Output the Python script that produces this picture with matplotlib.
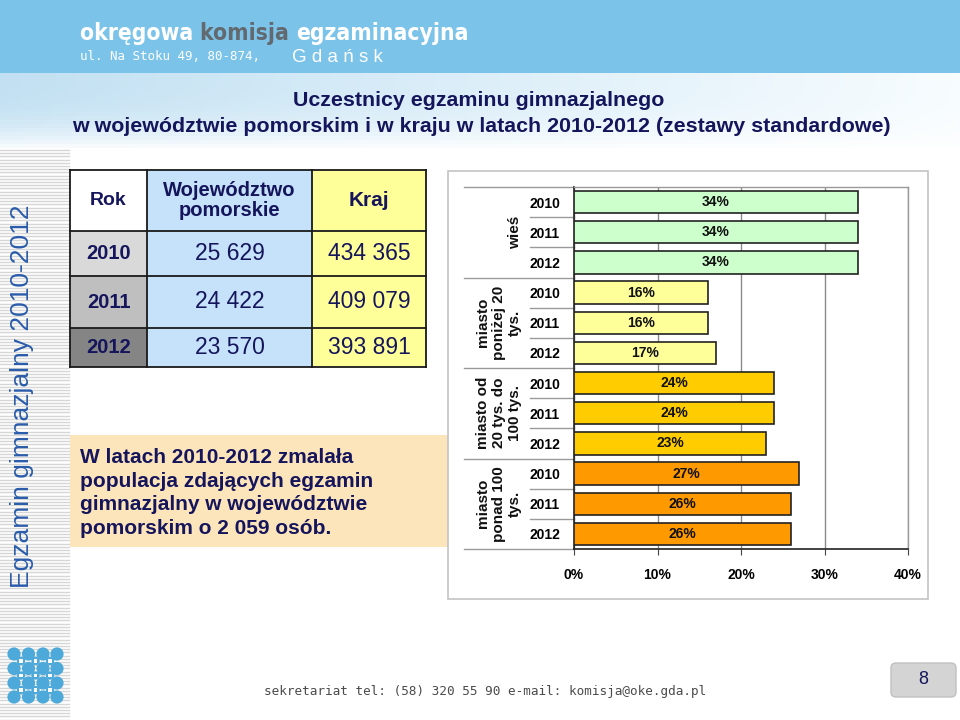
import matplotlib
matplotlib.use('Agg')
import matplotlib.pyplot as plt
import numpy as np
from matplotlib import font_manager as fm
from matplotlib.font_manager import FontProperties
from matplotlib.patches import Rectangle, FancyBboxPatch, Circle
from matplotlib.transforms import blended_transform_factory

# ---------------- data ----------------
table_years = ['2010', '2011', '2012']
pomorskie = [25629, 24422, 23570]
kraj = [434365, 409079, 393891]

groups = ['wieś', 'miasto\nponiżej 20\ntys.', 'miasto od\n20 tys. do\n100 tys.', 'miasto\nponad 100\ntys.']
years = ['2010', '2011', '2012']
wies = [34, 34, 34]
miasto_do20 = [16, 16, 17]
miasto_20_100 = [24, 24, 23]
miasto_pow100 = [27, 26, 26]
group_colors = ['#ccffcc', '#ffff99', '#ffcc00', '#ff9900']
xticks = [0, 10, 20, 30, 40]

# ---------------- fonts ----------------
names = {f.name for f in fm.fontManager.ttflist}
SANS = 'Liberation Sans' if 'Liberation Sans' in names else 'DejaVu Sans'
plt.rcParams['font.family'] = [SANS, 'DejaVu Sans']
NAVY = '#15155c'

cond_bold = None
for f in fm.fontManager.ttflist:
    fn = f.fname.replace('\\', '/').split('/')[-1]
    if fn == 'LiberationSansNarrow-Bold.ttf' or (cond_bold is None and fn == 'DejaVuSansCondensed-Bold.ttf'):
        cond_bold = f.fname

fig = plt.figure(figsize=(9.6, 7.2), dpi=100)
bg = fig.add_axes([0, 0, 1, 1])
bg.set_xlim(0, 960)
bg.set_ylim(720, 0)
bg.axis('off')

# header band
bg.add_patch(Rectangle((0, 0), 960, 73, fc='#7cc3ea', ec='none', zorder=0))
grad = np.linspace(0, 1, 256)
img = np.zeros((20, 256, 3))
c0 = np.array([0.76, 0.88, 0.95])
c1 = np.array([0.97, 0.99, 1.0])
for i in range(256):
    img[:, i, :] = c0 * (1 - grad[i]) + c1 * grad[i]
vfade = np.linspace(0, 1, 20)[:, None, None] ** 3
img = img * (1 - vfade) + vfade * 1.0
bg.imshow(img, extent=(0, 960, 152, 73), aspect='auto', zorder=0)

# left striped strip
bg.add_patch(Rectangle((0, 150), 70, 570, fc='white', ec='none', zorder=0))
for yy in np.arange(150, 720, 3.2):
    bg.plot([0, 69], [yy, yy], color='#d6d6d6', lw=1.0, zorder=1)

# header texts
r = fig.canvas.get_renderer()
if cond_bold:
    hp = FontProperties(fname=cond_bold, size=16.4)
else:
    hp = FontProperties(family=SANS, weight='bold', size=17.4)
x = 80
for part, col in [('okręgowa ', 'white'), ('komisja ', '#62696f'), ('egzaminacyjna', 'white')]:
    t = bg.text(x, 40, part, color=col, fontproperties=hp, ha='left', va='baseline', zorder=3)
    bb = t.get_window_extent(renderer=r)
    x += bb.width
bg.text(80, 57, 'ul. Na Stoku 49, 80-874,', color='white', fontsize=9, family='DejaVu Sans Mono',
        ha='left', va='center', zorder=3)
bg.text(292, 57, 'G d a ń s k', color='white', fontsize=13.5, family=SANS,
        ha='left', va='center', zorder=3)

# title
bg.text(479, 100, 'Uczestnicy egzaminu gimnazjalnego', color=NAVY, fontsize=15.4,
        fontweight='bold', ha='center', va='center', zorder=3)
bg.text(481, 126, 'w województwie pomorskim i w kraju w latach 2010-2012 (zestawy standardowe)',
        color=NAVY, fontsize=15.4, fontweight='bold', ha='center', va='center', zorder=3)

# vertical strip title
bg.text(22, 396, 'Egzamin gimnazjalny 2010-2012', color='#2a5caa', fontsize=19, rotation=90,
        ha='center', va='center', zorder=3)

# ---------------- table ----------------
cx = [70, 147, 312, 426]
ry = [170, 231, 276, 328, 367]
rok_cols = ['#d9d9d9', '#bfbfbf', '#858585']
bg.add_patch(Rectangle((cx[0], ry[0]), cx[1] - cx[0], ry[1] - ry[0], fc='white', ec='none', zorder=2))
bg.add_patch(Rectangle((cx[1], ry[0]), cx[2] - cx[1], ry[4] - ry[0], fc='#c6e2fa', ec='none', zorder=2))
bg.add_patch(Rectangle((cx[2], ry[0]), cx[3] - cx[2], ry[4] - ry[0], fc='#ffff99', ec='none', zorder=2))
for i in range(3):
    bg.add_patch(Rectangle((cx[0], ry[i + 1]), cx[1] - cx[0], ry[i + 2] - ry[i + 1], fc=rok_cols[i],
                           ec='none', zorder=2))
for xx in cx:
    bg.plot([xx, xx], [ry[0], ry[-1]], color='#1a1a1a', lw=1.3, zorder=3)
for yy in ry:
    bg.plot([cx[0], cx[-1]], [yy, yy], color='#1a1a1a', lw=1.3, zorder=3)


def mid(a, b):
    return (a + b) / 2


bg.text(mid(cx[0], cx[1]), mid(ry[0], ry[1]), 'Rok', color=NAVY, fontsize=14, fontweight='bold',
        ha='center', va='center', zorder=4)
bg.text(mid(cx[1], cx[2]), mid(ry[0], ry[1]), 'Województwo\npomorskie', color=NAVY, fontsize=14.5,
        fontweight='bold', ha='center', va='center', linespacing=1.1, zorder=4)
bg.text(mid(cx[2], cx[3]), mid(ry[0], ry[1]), 'Kraj', color=NAVY, fontsize=15, fontweight='bold',
        ha='center', va='center', zorder=4)


def fmt(v):
    return f'{v:,}'.replace(',', ' ')


for i in range(3):
    yc = mid(ry[i + 1], ry[i + 2])
    bg.text(mid(cx[0], cx[1]), yc, table_years[i], color=NAVY, fontsize=14.5, fontweight='bold',
            ha='center', va='center', zorder=4)
    bg.text(mid(cx[1], cx[2]), yc, fmt(pomorskie[i]), color=NAVY, fontsize=16.5,
            ha='center', va='center', zorder=4)
    bg.text(mid(cx[2], cx[3]), yc, fmt(kraj[i]), color=NAVY, fontsize=16.5,
            ha='center', va='center', zorder=4)

# note box
bg.add_patch(Rectangle((70, 435), 378, 112, fc='#fde5bb', ec='none', zorder=2))
bg.text(80, 493, 'W latach 2010-2012 zmalała\npopulacja zdających egzamin\ngimnazjalny w województwie\npomorskim o 2 059 osób.',
        color=NAVY, fontsize=15, fontweight='bold', ha='left', va='center', linespacing=1.3, zorder=4)

# chart frame
bg.add_patch(Rectangle((448, 171), 480, 428, fc='white', ec='#c4c4c4', lw=1.2, zorder=2))

# footer
bg.text(485, 692, 'sekretariat tel: (58) 320 55 90 e-mail: komisja@oke.gda.pl', color='#4a4a4a',
        fontsize=9.1, family='DejaVu Sans Mono', ha='center', va='center', zorder=3)
bg.add_patch(FancyBboxPatch((891, 663), 65, 34, boxstyle='round,pad=0,rounding_size=5',
                            fc='#d4d4d4', ec='#c0c0c0', lw=1, zorder=3))
bg.text(923, 680, '8', color=NAVY, fontsize=13, ha='center', va='center', zorder=4)

# logo dots
for xx in [14, 28.5, 43, 57]:
    for yy in [654, 668.5, 683, 697]:
        bg.add_patch(Circle((xx, yy), 6.6, fc='#4da9d9', ec='none', zorder=3))
for xx in [21, 35.5, 50]:
    for yy in [661, 675.5, 690]:
        bg.add_patch(Circle((xx, yy), 4.2, fc='#4da9d9', ec='none', zorder=3))
        bg.add_patch(Rectangle((xx - 1.8, yy - 1.8), 3.6, 3.6, fc='white', ec='none', zorder=4))

# ---------------- bar chart ----------------
ax = fig.add_axes([574 / 960, 1 - 549 / 720, 334 / 960, 362 / 720])
series = [wies, miasto_do20, miasto_20_100, miasto_pow100]
vals = [v for s in series for v in s]
cols = [group_colors[g] for g, s in enumerate(series) for _ in s]
ypos = np.arange(len(vals))
ax.barh(ypos, np.array(vals) / 100, height=0.74, color=cols, edgecolor='#222222', lw=1.2, zorder=3)
for yv, v in zip(ypos, vals):
    ax.text(v / 200, yv, f'{v}%', ha='center', va='center', fontsize=10, fontweight='bold',
            color='#111111', zorder=4)
ax.set_xlim(0, 0.4)
ax.set_ylim(len(vals) - 0.5, -0.5)
ax.set_xticks(np.array(xticks) / 100)
ax.set_xticklabels([f'{t}%' for t in xticks], fontsize=10, fontweight='bold')
ax.set_yticks(ypos)
ax.set_yticklabels(years * len(series), fontsize=10, fontweight='bold')
ax.tick_params(axis='y', length=0, pad=10)
ax.tick_params(axis='x', length=4, pad=10, color='#444444')
ax.grid(axis='x', color='#8a8a8a', lw=1.0, zorder=0)
ax.set_axisbelow(True)
for s in ['top', 'right']:
    ax.spines[s].set_color('#9a9a9a')
    ax.spines[s].set_linewidth(1.0)
for s in ['left', 'bottom']:
    ax.spines[s].set_color('#222222')
    ax.spines[s].set_linewidth(1.2)

trans = blended_transform_factory(ax.transAxes, ax.transData)
for g in range(len(series) + 1):
    b = g * 3 - 0.5
    ax.plot([-0.33, 0], [b, b], transform=trans, color='#9a9a9a', lw=1.0, clip_on=False)
for g in range(len(series)):
    for k in (1, 2):
        b = g * 3 + k - 0.5
        ax.plot([-0.132, 0], [b, b], transform=trans, color='#9a9a9a', lw=1.0, clip_on=False)
    ax.text(-0.157, g * 3 + 1, groups[g], transform=trans, rotation=90, ha='right', va='center',
            multialignment='center', fontsize=11, fontweight='bold', linespacing=1.15, color='#111111')

fig.savefig('out.png', dpi=100)
